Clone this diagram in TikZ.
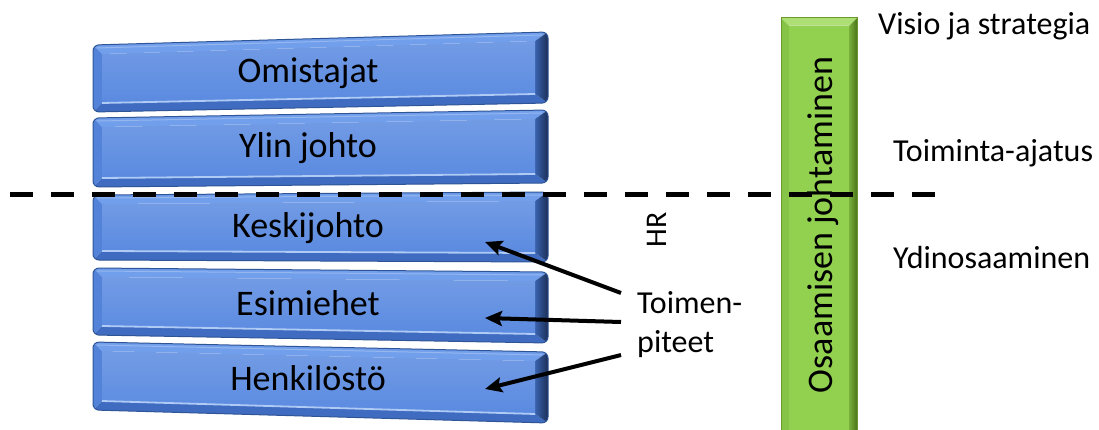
\documentclass[tikz,border=0pt]{standalone}
\usepackage{fontspec}
\setmainfont{Carlito}
\usetikzlibrary{arrows.meta,calc}

\definecolor{tierface}{HTML}{5A8AE0}
\definecolor{tiertop}{HTML}{719FEC}
\definecolor{tierleft}{HTML}{5283D8}
\definecolor{tierbottom}{HTML}{3F6CC0}
\definecolor{tierdarkA}{HTML}{3A63AE}
\definecolor{tierdarkB}{HTML}{1B2F57}
\definecolor{tierline}{HTML}{AFCAF4}
\definecolor{tieredge}{HTML}{2F5597}
\definecolor{barface}{HTML}{92D050}
\definecolor{bartop}{HTML}{AEDF75}
\definecolor{barleft}{HTML}{86C447}
\definecolor{bardarkA}{HTML}{79B03C}
\definecolor{bardarkB}{HTML}{4C7418}
\definecolor{baredge}{HTML}{6A9A2C}

\tikzset{
  tierlabel/.style={font=\fontsize{36}{43}\selectfont, anchor=base, inner sep=0pt},
  sidelabel/.style={font=\fontsize{32}{39}\selectfont, anchor=base west, inner sep=0pt},
  pointer/.style={line width=4pt, -{Stealth[length=17pt,width=15pt,inset=3pt]}},
  divider/.style={line width=5pt, dash pattern=on 23pt off 18pt}
}

% #1 name, #2 top-left y, #3 top-right y, #4 bottom-right y, #5 bottom-left y,
% #6 label, #7 label baseline y
\newcommand{\tier}[7]{%
  \coordinate (#1TL) at (93,#2);
  \coordinate (#1TR) at (548,#3);
  \coordinate (#1BR) at (548,#4);
  \coordinate (#1BL) at (93,#5);
  \coordinate (#1tl) at (102,{#2+9});
  \coordinate (#1tr) at (535,{#3+9});
  \coordinate (#1br) at (535,{#4-9});
  \coordinate (#1bl) at (102,{#5-9});
  \begin{scope}
    \clip[rounded corners=6pt] (#1TL)--(#1TR)--(#1BR)--(#1BL)--cycle;
    \fill[tiertop] (#1TL)--(#1TR)--(#1tr)--(#1tl)--cycle;
    \fill[tierleft] (#1TL)--(#1tl)--(#1bl)--(#1BL)--cycle;
    \fill[tierbottom] (#1BL)--(#1bl)--(#1br)--(#1BR)--cycle;
    \shade[left color=tierdarkA, right color=tierdarkB]
      (#1TR)--(#1BR)--(#1br)--(#1tr)--cycle;
    \shade[top color=tierface!85!white, bottom color=tierface]
      (#1tl)--(#1tr)--(#1br)--(#1bl)--cycle;
    \draw[tierline, line width=1.8pt] (#1bl)--(#1br);
    \draw[tierline!70!tierface, line width=1pt] ($(#1TL)+(4,3)$)--($(#1TR)+(-6,3)$);
  \end{scope}
  \draw[tieredge, line width=1pt, rounded corners=6pt]
    (#1TL)--(#1TR)--(#1BR)--(#1BL)--cycle;
  \node[tierlabel] (#1) at (308,#7) {#6};
}

\begin{document}
\begin{tikzpicture}[x=1pt, y=-1pt]
  \useasboundingbox (0,0) rectangle (1099,430);
  \fill[white] (0,0) rectangle (1099,430);

  % organisation levels
  \tier{omistajat}{45}{32}{103}{112}{Omistajat}{83}
  \tier{ylin}{118}{110}{183}{187}{Ylin johto}{158}
  \tier{keski}{195}{192}{262}{260}{Keskijohto}{237}
  \tier{esimiehet}{268}{272}{343}{335}{Esimiehet}{315}
  \tier{henkilosto}{342}{352}{423}{410}{Henkilöstö}{390}

  % vertical competence management bar
  \coordinate (gTL) at (781,18);
  \coordinate (gTR) at (857,18);
  \coordinate (gBR) at (857,430);
  \coordinate (gBL) at (781,430);
  \coordinate (gtl) at (789,26);
  \coordinate (gtr) at (849,26);
  \coordinate (gbr) at (849,430);
  \coordinate (gbl) at (789,430);
  \fill[bartop] (gTL)--(gTR)--(gtr)--(gtl)--cycle;
  \fill[barleft] (gTL)--(gtl)--(gbl)--(gBL)--cycle;
  \shade[left color=bardarkA, right color=bardarkB] (gTR)--(gBR)--(gbr)--(gtr)--cycle;
  \fill[barface] (gtl)--(gtr)--(gbr)--(gbl)--cycle;
  \draw[baredge, line width=1pt] (gBL)--(gTL)--(gTR)--(gBR);
  \draw[barface!60!white, line width=1pt] (gtl)--(gtr);
  \node[font=\fontsize{36}{43}\selectfont, rotate=90, inner sep=0pt] (osaaminen)
    at (823,225) {Osaamisen johtaminen};

  % boundary line
  \coordinate (dL) at (10,195);
  \coordinate (dR) at (942,195);
  \draw[divider] (dL)--(dR);

  % side labels
  \node[sidelabel] (visio) at (878,35) {Visio ja strategia};
  \node[sidelabel] (toiminta) at (893,162) {Toiminta-ajatus};
  \node[sidelabel] (ydin) at (893,268) {Ydinosaaminen};
  \node[font=\fontsize{30}{36}\selectfont, rotate=90, inner sep=0pt] (hr) at (657,230) {HR};

  % actions
  \node[sidelabel] (toimen) at (637,313) {Toimen-};
  \node[sidelabel] (piteet) at (637,352) {piteet};
  \coordinate (a1) at (621,293);
  \coordinate (a2) at (621,322);
  \coordinate (a3) at (621,355);
  \coordinate (t1) at (485,242);
  \coordinate (t2) at (485,318);
  \coordinate (t3) at (485,389);
  \draw[pointer] (a1)--(t1);
  \draw[pointer] (a2)--(t2);
  \draw[pointer] (a3)--(t3);
\end{tikzpicture}
\end{document}
